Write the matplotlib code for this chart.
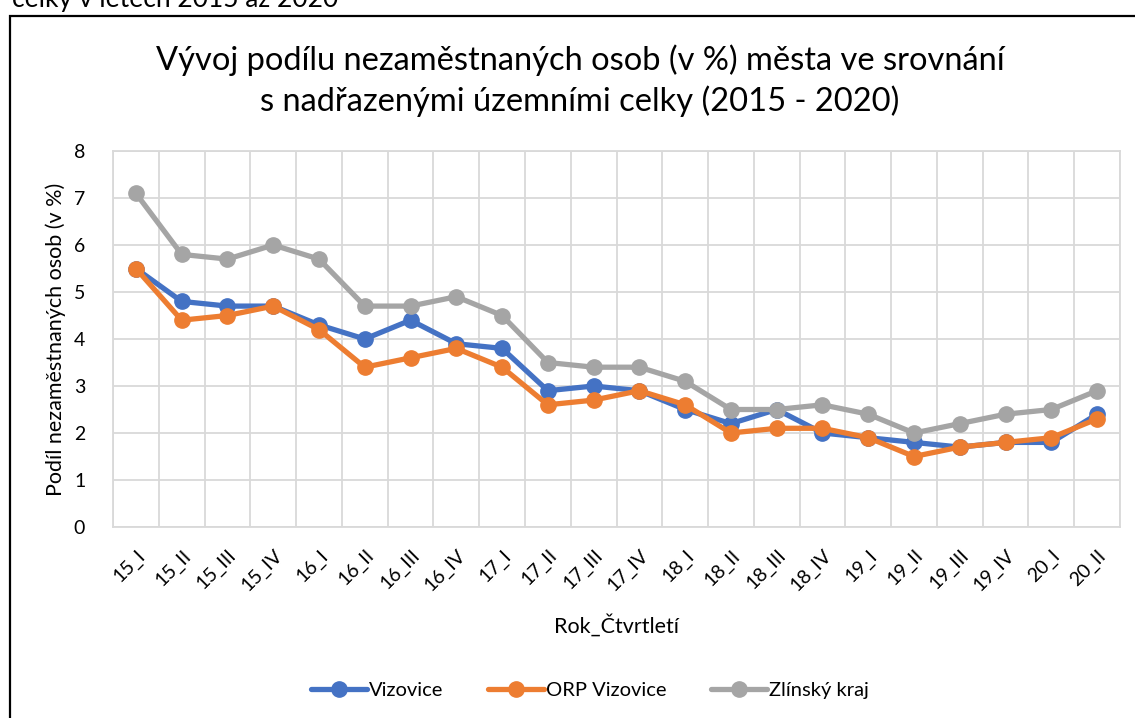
import matplotlib
matplotlib.use("Agg")
import matplotlib.pyplot as plt
from matplotlib.patches import Rectangle
import numpy as np

plt.rcParams['font.family'] = ['Lato', 'DejaVu Sans']

# quarters 2015 - 2020
quarters = ["15_I", "15_II", "15_III", "15_IV", "16_I", "16_II", "16_III", "16_IV",
            "17_I", "17_II", "17_III", "17_IV", "18_I", "18_II", "18_III", "18_IV",
            "19_I", "19_II", "19_III", "19_IV", "20_I", "20_II"]

vizovice = [5.5, 4.8, 4.7, 4.7, 4.3, 4.0, 4.4, 3.9, 3.8, 2.9, 3.0, 2.9,
            2.5, 2.2, 2.5, 2.0, 1.9, 1.8, 1.7, 1.8, 1.8, 2.4]
orp_vizovice = [5.5, 4.4, 4.5, 4.7, 4.2, 3.4, 3.6, 3.8, 3.4, 2.6, 2.7, 2.9,
                2.6, 2.0, 2.1, 2.1, 1.9, 1.5, 1.7, 1.8, 1.9, 2.3]
zlinsky_kraj = [7.1, 5.8, 5.7, 6.0, 5.7, 4.7, 4.7, 4.9, 4.5, 3.5, 3.4, 3.4,
                3.1, 2.5, 2.5, 2.6, 2.4, 2.0, 2.2, 2.4, 2.5, 2.9]

series = [("Vizovice", vizovice, "#4472C4"),
          ("ORP Vizovice", orp_vizovice, "#ED7D31"),
          ("Zlínský kraj", zlinsky_kraj, "#A5A5A5")]

W, H = 1135, 718
fig = plt.figure(figsize=(W / 100, H / 100), dpi=100)
ax = fig.add_axes([113 / W, 1 - 527 / H, (1120 - 113) / W, (527 - 151) / H])

x = np.arange(len(quarters))
for name, vals, col in series:
    ax.plot(x, vals, color=col, lw=3.8, marker='o', ms=11, label=name,
            solid_capstyle='round', zorder=3)

ax.set_xlim(-0.5, len(quarters) - 0.5)
ax.set_ylim(0, 8)
ax.set_yticks(range(0, 9))
ax.set_xticks(x)
ax.set_xticklabels(quarters, rotation=45, ha='right', rotation_mode='anchor')
ax.set_xticks(np.arange(-0.5, len(quarters), 1), minor=True)
ax.tick_params(axis='both', which='both', length=0, labelsize=14, colors='black')
ax.tick_params(axis='x', pad=14)
ax.tick_params(axis='y', pad=20)
ax.grid(axis='y', which='major', color='#D9D9D9', lw=1.3)
ax.grid(axis='x', which='minor', color='#D9D9D9', lw=1.3)
ax.grid(axis='x', which='major', visible=False)
for s in ax.spines.values():
    s.set_color('#D9D9D9')
    s.set_linewidth(1.3)

ax.set_ylabel("Podíl nezaměstnaných osob (v %)", fontsize=15.5, labelpad=6)
fig.text(617 / W, 1 - 625 / H, "Rok_Čtvrtletí", fontsize=15.5, ha='center', va='center')

fig.text(580 / W, 1 - 60 / H, "Vývoj podílu nezaměstnaných osob (v %) města ve srovnání",
         fontsize=23.5, ha='center', va='center')
fig.text(580 / W, 1 - 101 / H, "s nadřazenými územními celky (2015 - 2020)",
         fontsize=23.5, ha='center', va='center')

fig.legend(loc='center', bbox_to_anchor=(590 / W, 1 - 690 / H), ncol=3, frameon=False,
           fontsize=14.5, handlelength=2.8, handletextpad=0.1, columnspacing=2.2)

# chart frame and clipped caption line above it
fig.patches.append(Rectangle((10 / W, -0.1), 1.2, 1 - 16 / H + 0.1, transform=fig.transFigure,
                             fill=False, ec='black', lw=1.6))
fig.text(12 / W, 1 - 7 / H, "celky v letech 2015 až 2020", fontsize=19, ha='left', va='baseline')

fig.savefig("out.png", dpi=100)
